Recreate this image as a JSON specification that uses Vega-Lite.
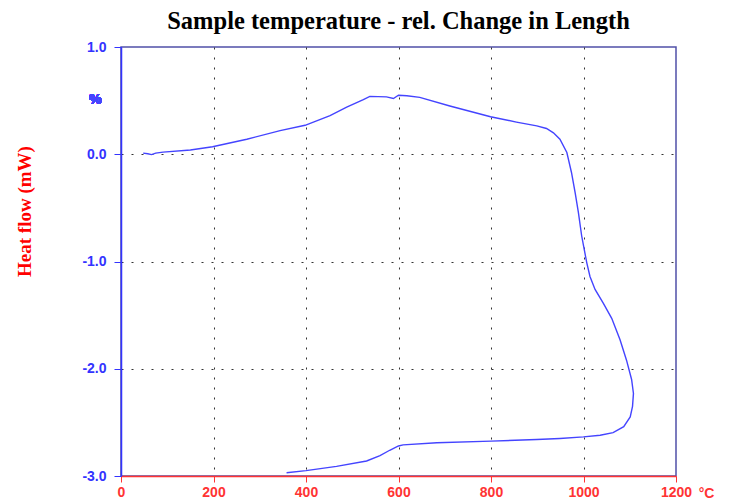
{
  "$schema": "https://vega.github.io/schema/vega-lite/v6.json",
  "width": 555,
  "height": 429,
  "autosize": {"type": "none"},
  "padding": {"left": 121, "top": 47, "right": 54, "bottom": 24},
  "background": "white",
  "config": {
    "view": {"stroke": "#5050a8", "strokeWidth": 1.5},
    "axis": {"labelFont": "Liberation Sans", "labelFontWeight": "bold", "labelFontSize": 14}
  },
  "title": {
    "text": "Sample temperature - rel. Change in Length",
    "font": "Liberation Serif",
    "fontSize": 24.5,
    "fontWeight": "bold",
    "color": "black",
    "anchor": "middle",
    "frame": "group",
    "offset": 6
  },
  "data": {
    "values": [
      {"i": 1, "t": 48, "v": 0.01},
      {"i": 2, "t": 58, "v": 0.005},
      {"i": 3, "t": 66, "v": -0.003},
      {"i": 4, "t": 75, "v": 0.01},
      {"i": 5, "t": 91, "v": 0.02},
      {"i": 6, "t": 150, "v": 0.04},
      {"i": 7, "t": 198, "v": 0.07},
      {"i": 8, "t": 272, "v": 0.14},
      {"i": 9, "t": 344, "v": 0.22},
      {"i": 10, "t": 398, "v": 0.27},
      {"i": 11, "t": 452, "v": 0.36},
      {"i": 12, "t": 488, "v": 0.44},
      {"i": 13, "t": 524, "v": 0.51},
      {"i": 14, "t": 538, "v": 0.54},
      {"i": 15, "t": 574, "v": 0.535},
      {"i": 16, "t": 589, "v": 0.52},
      {"i": 17, "t": 600, "v": 0.55},
      {"i": 18, "t": 618, "v": 0.545},
      {"i": 19, "t": 646, "v": 0.53},
      {"i": 20, "t": 711, "v": 0.45},
      {"i": 21, "t": 799, "v": 0.35},
      {"i": 22, "t": 855, "v": 0.30},
      {"i": 23, "t": 899, "v": 0.265},
      {"i": 24, "t": 920, "v": 0.24},
      {"i": 25, "t": 935, "v": 0.20},
      {"i": 26, "t": 949, "v": 0.14},
      {"i": 27, "t": 964, "v": 0.016},
      {"i": 28, "t": 974, "v": -0.17},
      {"i": 29, "t": 982, "v": -0.36},
      {"i": 30, "t": 989, "v": -0.545},
      {"i": 31, "t": 996, "v": -0.76},
      {"i": 32, "t": 1003, "v": -0.92},
      {"i": 33, "t": 1007, "v": -1.01},
      {"i": 34, "t": 1014, "v": -1.14},
      {"i": 35, "t": 1025, "v": -1.26},
      {"i": 36, "t": 1043, "v": -1.39},
      {"i": 37, "t": 1061, "v": -1.53},
      {"i": 38, "t": 1079, "v": -1.73},
      {"i": 39, "t": 1093, "v": -1.92},
      {"i": 40, "t": 1104, "v": -2.10},
      {"i": 41, "t": 1108, "v": -2.23},
      {"i": 42, "t": 1106, "v": -2.35},
      {"i": 43, "t": 1101, "v": -2.45},
      {"i": 44, "t": 1087, "v": -2.54},
      {"i": 45, "t": 1064, "v": -2.595},
      {"i": 46, "t": 1036, "v": -2.62},
      {"i": 47, "t": 1000, "v": -2.635},
      {"i": 48, "t": 949, "v": -2.65},
      {"i": 49, "t": 899, "v": -2.66},
      {"i": 50, "t": 800, "v": -2.675},
      {"i": 51, "t": 683, "v": -2.69},
      {"i": 52, "t": 610, "v": -2.71},
      {"i": 53, "t": 600, "v": -2.72},
      {"i": 54, "t": 581, "v": -2.76},
      {"i": 55, "t": 560, "v": -2.81},
      {"i": 56, "t": 531, "v": -2.86},
      {"i": 57, "t": 466, "v": -2.91},
      {"i": 58, "t": 400, "v": -2.95},
      {"i": 59, "t": 358, "v": -2.97}
    ]
  },
  "layer": [
    {
      "mark": {"type": "line", "color": "#4444ff", "strokeWidth": 1.4},
      "encoding": {
        "x": {
          "field": "t",
          "type": "quantitative",
          "scale": {"domain": [0, 1200], "nice": false},
          "axis": {
            "values": [0, 200, 400, 600, 800, 1000, 1200],
            "format": "d",
            "title": "°C",
            "titleColor": "#ff3333",
            "titleFont": "Liberation Sans",
            "titleFontWeight": "bold",
            "titleFontSize": 14,
            "titleX": 585,
            "titleY": 10,
            "titleBaseline": "top",
            "titleAlign": "center",
            "labelColor": "#ff3333",
            "labelPadding": 3,
            "labelFlush": false,
            "domainColor": "#ff3333",
            "domainWidth": 1.5,
            "tickColor": "#ff3333",
            "tickSize": 6,
            "grid": true,
            "gridColor": "#333333",
            "gridDash": [2, 8],
            "gridOpacity": {"condition": {"test": "datum.value == 0 || datum.value == 1200", "value": 0}, "value": 1}
          }
        },
        "y": {
          "field": "v",
          "type": "quantitative",
          "scale": {"domain": [-3, 1], "nice": false},
          "axis": {
            "values": [-3, -2, -1, 0, 1],
            "labelExpr": "replace(format(datum.value, '.1f'), '\u2212', '-')",
            "title": "Heat flow (mW)",
            "titleColor": "#ff0000",
            "titleFont": "Liberation Serif",
            "titleFontWeight": "bold",
            "titleFontSize": 19,
            "titleX": -91,
            "titleY": 164,
            "titleAngle": -90,
            "titleAlign": "center",
            "titleBaseline": "alphabetic",
            "labelColor": "#3333ff",
            "labelPadding": 8,
            "labelFlush": false,
            "domainColor": "#3333ff",
            "domainWidth": 1.5,
            "tickColor": "#3333ff",
            "tickSize": 7,
            "grid": true,
            "gridColor": "#333333",
            "gridDash": [2, 8],
            "gridOpacity": {"condition": {"test": "datum.value == -3 || datum.value == 1", "value": 0}, "value": 1}
          }
        },
        "order": {"field": "i", "type": "quantitative"}
      }
    },
    {
      "mark": {"type": "text", "text": "%", "color": "#4444ff", "font": "Liberation Sans", "fontWeight": "bold", "fontSize": 14, "align": "center", "baseline": "middle"},
      "encoding": {
        "x": {"datum": -56, "type": "quantitative"},
        "y": {"datum": 0.507, "type": "quantitative"}
      }
    }
  ]
}
